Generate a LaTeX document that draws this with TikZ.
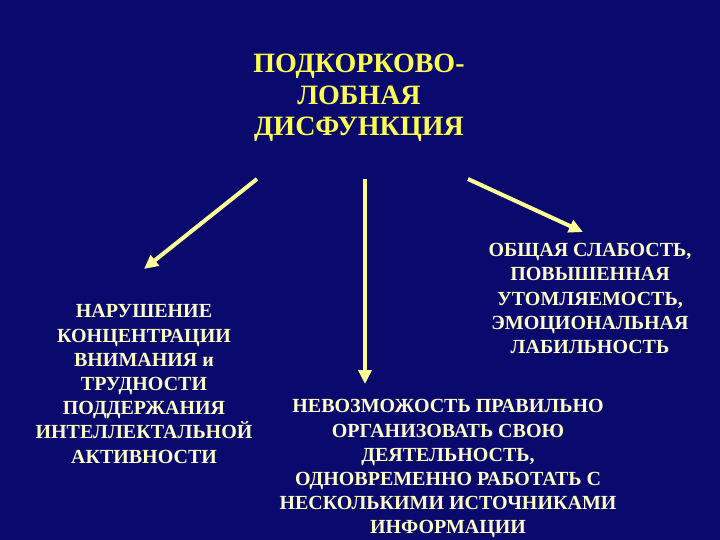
\documentclass[tikz,border=0pt]{standalone}
\usepackage{fontspec}
\setmainfont{Liberation Serif}
\usepackage{tikz}
\usetikzlibrary{arrows.meta}
\tikzset{>={Triangle[length=14pt,width=13pt]}}
\definecolor{slidebg}{RGB}{10,10,110}
\definecolor{titleyellow}{RGB}{255,255,80}
\definecolor{textcream}{RGB}{255,255,200}
\definecolor{arrowyellow}{RGB}{255,255,150}

\begin{document}
\begin{tikzpicture}[x=1pt, y=-1pt,
    heading/.style={text=titleyellow, inner sep=0pt, align=center,
        font=\bfseries\fontsize{28}{31.5}\selectfont},
    item/.style={text=textcream, inner sep=0pt, align=center,
        font=\bfseries\fontsize{20}{24.2}\selectfont},
    pointer/.style={->, line width=4pt, draw=arrowyellow}]
    \coordinate (T) at (359,98);
    \coordinate (L) at (144,384);
    \coordinate (R) at (590,298.5);
    \coordinate (B) at (448,469);

    \coordinate (A1s) at (257,179);
    \coordinate (A1e) at (144,269);
    \coordinate (A2s) at (365,179);
    \coordinate (A2e) at (365,384);
    \coordinate (A3s) at (468,179);
    \coordinate (A3e) at (583,232);

    % Background
    \fill[slidebg] (0,0) rectangle (720,540);
    \useasboundingbox (0,0) rectangle (720,540);

    % Title
    \node[heading] (title) at (T) {ПОДКОРКОВО-\\ЛОБНАЯ\\ДИСФУНКЦИЯ};

    % Consequences
    \node[item] (attention) at (L) {НАРУШЕНИЕ\\КОНЦЕНТРАЦИИ\\ВНИМАНИЯ и\\ТРУДНОСТИ\\ПОДДЕРЖАНИЯ\\ИНТЕЛЛЕКТАЛЬНОЙ\\АКТИВНОСТИ};
    \node[item] (weakness) at (R) {ОБЩАЯ СЛАБОСТЬ,\\ПОВЫШЕННАЯ\\УТОМЛЯЕМОСТЬ,\\ЭМОЦИОНАЛЬНАЯ\\ЛАБИЛЬНОСТЬ};
    \node[item] (planning) at (B) {НЕВОЗМОЖОСТЬ ПРАВИЛЬНО\\ОРГАНИЗОВАТЬ СВОЮ\\ДЕЯТЕЛЬНОСТЬ,\\ОДНОВРЕМЕННО РАБОТАТЬ С\\НЕСКОЛЬКИМИ ИСТОЧНИКАМИ\\ИНФОРМАЦИИ};

    % Arrows
    \draw[pointer] (A1s) -- (A1e);
    \draw[pointer] (A2s) -- (A2e);
    \draw[pointer] (A3s) -- (A3e);

\end{tikzpicture}
\end{document}
